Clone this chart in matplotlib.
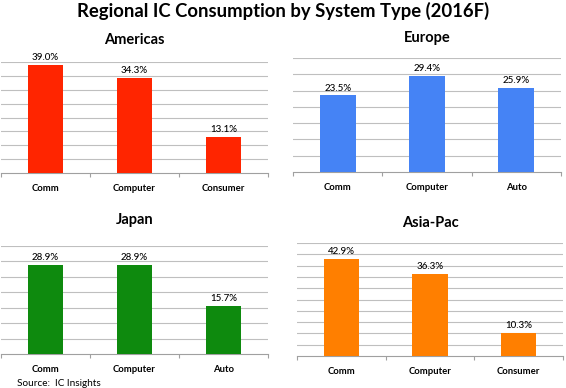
"""Regional IC consumption by system type (2016F), four small bar panels."""

import matplotlib

matplotlib.use("Agg")
import matplotlib.pyplot as plt  # noqa: E402
import numpy as np  # noqa: E402

plt.rcParams["font.family"] = ["Lato", "DejaVu Sans"]

americas_cats = ["Comm", "Computer", "Consumer"]
americas_vals = [39.0, 34.3, 13.1]

europe_cats = ["Comm", "Computer", "Auto"]
europe_vals = [23.5, 29.4, 25.9]

japan_cats = ["Comm", "Computer", "Auto"]
japan_vals = [28.9, 28.9, 15.7]

asiapac_cats = ["Comm", "Computer", "Consumer"]
asiapac_vals = [42.9, 36.3, 10.3]

W, H = 566, 388
fig = plt.figure(figsize=(W / 100, H / 100), dpi=100)


def px_axes(x0, x1, top, bottom):
    return fig.add_axes([x0 / W, 1 - bottom / H, (x1 - x0) / W, (bottom - top) / H])


panels = [
    ("Americas", americas_cats, americas_vals, "#FF2500", 40, (1, 268, 62, 173), 40),
    ("Europe", europe_cats, europe_vals, "#4583F5", 35, (293, 561, 58, 172), 38),
    ("Japan", japan_cats, japan_vals, "#0E8A0E", 35, (1, 268, 246, 354), 220),
    ("Asia-Pac", asiapac_cats, asiapac_vals, "#FF7F00", 50, (297, 563, 243, 356), 223),
]

for name, cats, vals, color, ymax, box, title_y in panels:
    ax = px_axes(*box)
    x = np.arange(len(cats))
    ax.bar(x, vals, width=0.4, color=color, zorder=3)
    ax.set_xlim(-0.5, len(cats) - 0.5)
    ax.set_ylim(0, ymax)
    ax.set_yticks(np.arange(5, ymax + 1, 5))
    ax.yaxis.grid(True, color="#BFBFBF", linewidth=0.8, zorder=0)
    ax.tick_params(axis="y", left=False, labelleft=False)
    ax.set_xticks(x)
    ax.set_xticklabels(cats, fontsize=6.8, fontweight="bold")
    ax.tick_params(axis="x", length=0, pad=8)
    ax.set_xticks(np.arange(len(cats) + 1) - 0.5, minor=True)
    ax.tick_params(axis="x", which="minor", length=3, color="#A0A0A0", width=0.8)
    for s in ("top", "right", "left"):
        ax.spines[s].set_visible(False)
    ax.spines["bottom"].set_color("#A0A0A0")
    ax.spines["bottom"].set_linewidth(0.8)
    for xi, v in zip(x, vals):
        ax.annotate(f"{v:.1f}%", (xi, v), xytext=(0, 2), textcoords="offset points",
                    ha="center", va="bottom", fontsize=7, fontweight="medium")
    cx = (box[0] + box[1]) / 2
    fig.text(cx / W, 1 - title_y / H, name, ha="center", va="center",
             fontsize=10.5, fontweight="bold")

fig.text(283 / W, 1 - 11 / H, "Regional IC Consumption by System Type (2016F)",
         ha="center", va="center", fontsize=13.3, fontweight="bold")
fig.text(17 / W, 1 - 383 / H, "Source:  IC Insights", ha="left", va="center", fontsize=7.2)

fig.savefig("out.png", dpi=100)
plt.close(fig)
